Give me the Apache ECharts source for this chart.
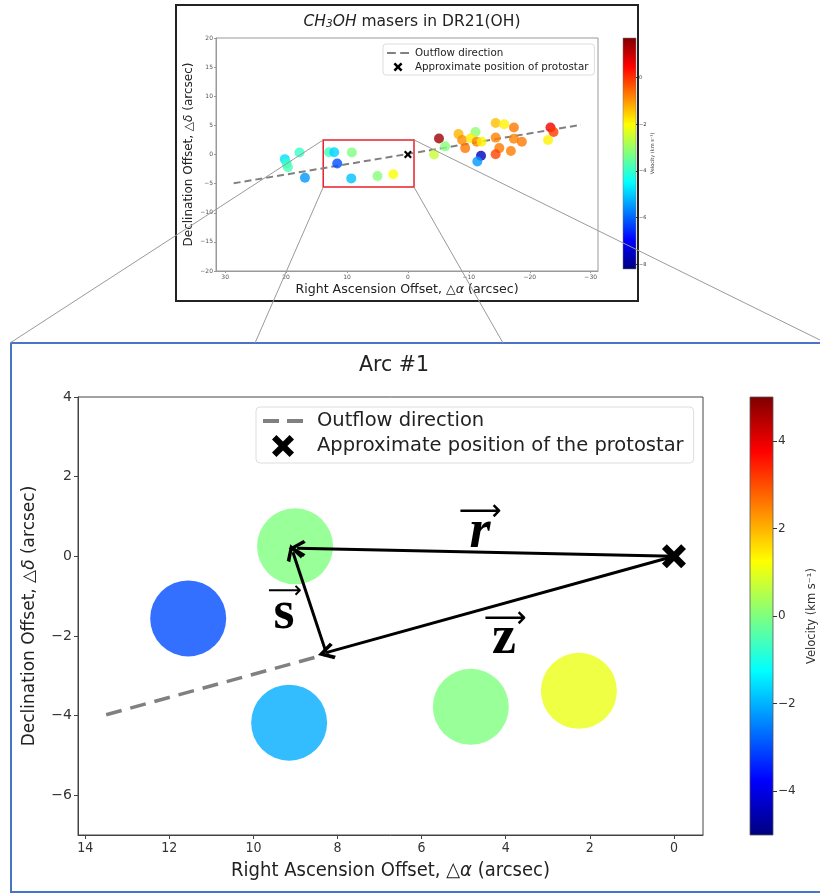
<!DOCTYPE html>
<html><head><meta charset="utf-8">
<script src="https://cdn.jsdelivr.net/npm/echarts@6/dist/echarts.min.js"></script>
<style>html,body{margin:0;padding:0;background:#fff}#c{width:820px;height:895px}</style>
</head><body><div id="c"></div>
<script>
// ---------- Overview panel (CH3OH masers in DR21(OH)) ----------
const overviewRA  = [20.2, 19.9, 19.7, 17.8, 16.9, 12.95, 12.1, 11.6, 9.2, 9.3, 5.0, 2.4, -5.1, -4.3, -6.1, -8.3, -8.9, -9.4, -11.1, -10.3, -11.3, -12.1, -12.0, -11.4, -14.4, -15.8, -14.4, -15.0, -14.4, -17.4, -17.4, -16.9, -18.7, -23.4, -23.9, -23.0];
const overviewDec = [-0.8, -1.5, -2.2, 0.35, -4.0, 0.4, 0.4, -1.55, 0.35, -4.1, -3.7, -3.4, 2.75, 0.0, 1.4, 3.5, 2.5, 1.1, 3.85, 2.8, 2.2, 2.2, -0.2, -1.2, 5.4, 5.2, 2.9, 1.1, 0.05, 4.65, 2.7, 0.6, 2.2, 4.65, 3.85, 2.5];
const overviewVel = [-4.8, -4.0, -3.75, -3.95, -5.5, -3.85, -4.9, -6.2, -3.25, -5.1, -3.2, -2.05, 1.4, -2.55, -3.2, -1.3, -0.9, -0.7, -3.1, -1.85, -0.8, -1.9, -7.6, -5.5, -1.4, -1.9, -0.8, -0.7, -0.2, -0.7, -0.8, -0.75, -0.7, 0.6, -0.1, -1.9];
const overviewOutflowRA  = [28.6, -28.4];
const overviewOutflowDec = [-4.94, 5.1];
const overviewXTicks = [30, 20, 10, 0, -10, -20, -30];
const overviewYTicks = [-20, -15, -10, -5, 0, 5, 10, 15, 20];
const overviewCbarTicks = [-8, -6, -4, -2, 0];
const overviewVelRange = [-8.2, 1.7];
const zoomBoxRA  = [13.9, -1.0];
const zoomBoxDec = [2.5, -5.6];

// ---------- Arc #1 panel ----------
const arcRA  = [9.01, 11.55, 9.15, 4.83, 2.26];
const arcDec = [0.25, -1.56, -4.18, -3.78, -3.38];
const arcVel = [0.0, -3.0, -2.05, 0.0, 1.05];
const arcOutflowRA  = [13.5, 8.2];
const arcOutflowDec = [-3.98, -2.44];
const protostarRA = [0], protostarDec = [0];
const vecNames = ['r', 's', 'z'];
const vecFrom = [[0, 0], [8.27, -2.42], [0, 0]];
const vecTo   = [[8.96, 0.2], [9.06, 0.1], [8.27, -2.42]];
const vecLabelPos = [[4.61, 0.58], [9.27, -1.44], [4.04, -2.09]];
const vecArrowPos = [[4.61, 1.1], [9.25, -0.88], [4.02, -1.58]];
const arcXTicks = [14, 12, 10, 8, 6, 4, 2, 0];
const arcYTicks = [-6, -4, -2, 0, 2, 4];
const arcCbarTicks = [-4, -2, 0, 2, 4];
const arcVelRange = [-5, 5];

const jet = ['#00007f','#0000ff','#007fff','#00ffff','#7fff7f','#ffff00','#ff7f00','#ff0000','#7f0000'];
const jetGrad = {type:'linear', x:0, y:1, x2:0, y2:0,
  colorStops: jet.map((c,i)=>({offset:i/(jet.length-1), color:c}))};
const minus = v => String(v).replace('-', '\u2212');
const xPath = 'path://M2,0 L5,3 L8,0 L10,2 L7,5 L10,8 L8,10 L5,7 L2,10 L0,8 L3,5 L0,2 Z';
const dashPath = 'path://M0,0 h16 v4 h-16 Z M24,0 h16 v4 h-16 Z';
const chevron = 'path://M6,0 L12,10 L10,11.6 L6,4.6 L2,11.6 L0,10 Z';
const zip3 = (a,b,c) => a.map((v,i)=>[v,b[i],c[i]]);
const zip2 = (a,b) => a.map((v,i)=>[v,b[i]]);

const chart = echarts.init(document.getElementById('c'));
const fontS = 'DejaVu Sans';

function mainAxes(gi, xmin, xmax, xt, ymin, ymax, yt, o) {
  return {
    x: {type:'value', gridIndex:gi, min:xmin, max:xmax, inverse:true,
      name:'Right Ascension Offset, \u25B3{i|\u03B1} (arcsec)', nameLocation:'middle', nameGap:o.xGap,
      nameTextStyle:{fontFamily:o.xFont, fontSize:o.xNameSize, color:'#222', rich:{i:{fontFamily:o.xFont, fontStyle:'italic', fontSize:o.xNameSize, color:'#222'}}},
      axisLine:{show:true, onZero:false, lineStyle:{color:o.spine, width:1}}, splitLine:{show:false},
      axisTick:{show:true, customValues:xt, length:o.tick, lineStyle:{color:o.spine}},
      axisLabel:{customValues:xt, formatter:minus, fontSize:o.tickSize, fontFamily:o.xFont, color:o.tickColor, margin:o.tickMargin}},
    y: {type:'value', gridIndex:gi, min:ymin, max:ymax,
      name:'Declination Offset, \u25B3{i|\u03B4} (arcsec)', nameLocation:'middle', nameGap:o.yGap, nameRotate:90,
      nameTextStyle:{fontFamily:fontS, fontSize:o.yNameSize, color:'#222', rich:{i:{fontFamily:fontS, fontStyle:'italic', fontSize:o.yNameSize, color:'#222'}}},
      axisLine:{show:true, onZero:false, lineStyle:{color:o.spine, width:1}}, splitLine:{show:false},
      axisTick:{show:true, customValues:yt, length:o.tick, lineStyle:{color:o.spine}},
      axisLabel:{customValues:yt, formatter:minus, fontSize:o.tickSize, fontFamily:fontS, color:o.tickColor, margin:o.tickMargin}}
  };
}
const topAx = mainAxes(0, -31.2, 31.5, overviewXTicks, -20, 20, overviewYTicks,
  {xGap:12, yGap:21, xNameSize:12.6, yNameSize:12, xFont:fontS, tick:2, spine:'#999', tickSize:6, tickColor:'#555', tickMargin:3});
const botAx = mainAxes(2, -0.69, 14.17, arcXTicks, -7, 4, arcYTicks,
  {xGap:26, yGap:40, xNameSize:20, yNameSize:17, xFont:'DejaVu Sans Condensed', tick:4, spine:'#444', tickSize:14, tickColor:'#333', tickMargin:6});

function cbarAxes(gi, rng, ticks, o) {
  return {
    x: {type:'value', gridIndex:gi, show:false, min:0, max:1},
    y: {type:'value', gridIndex:gi, position:'right', min:rng[0], max:rng[1],
      name:o.name, nameLocation:'middle', nameGap:o.gap, nameRotate:90,
      nameTextStyle:{fontFamily:fontS, fontSize:o.nameSize, color:'#333'},
      axisLine:{show:false, onZero:false}, splitLine:{show:false},
      axisTick:{show:true, customValues:ticks, length:o.tick, lineStyle:{color:'#333'}},
      axisLabel:{customValues:ticks, formatter:minus, fontSize:o.size, fontFamily:fontS, color:'#333', margin:o.margin}}
  };
}
const topCb = cbarAxes(1, overviewVelRange, overviewCbarTicks, {name:'Velocity (km s\u207B\u00B9)', gap:12, nameSize:5, tick:2, size:5, margin:3});
const botCb = cbarAxes(3, arcVelRange, arcCbarTicks, {name:'Velocity (km s\u207B\u00B9)', gap:33, nameSize:11.5, tick:4, size:12, margin:5});

const option = {
  animation:false,
  backgroundColor:'#fff',
  title:[
    {text:'{i|CH}{s|3}{i|OH}{n| masers in DR21(OH)}', left:407, top:8, textAlign:'center',
      textStyle:{fontWeight:'normal', rich:{
        i:{fontFamily:fontS, fontStyle:'italic', fontWeight:'normal', fontSize:15.5, color:'#222', lineHeight:17},
        s:{fontFamily:fontS, fontStyle:'italic', fontWeight:'normal', fontSize:10.5, color:'#222', lineHeight:4, verticalAlign:'bottom'},
        n:{fontFamily:fontS, fontWeight:'normal', fontSize:15.5, color:'#222', lineHeight:17}}}},
    {text:'Arc #1', left:389, top:350, textAlign:'center', textStyle:{fontFamily:fontS, fontSize:20.5, fontWeight:'normal', color:'#222'}}
  ],
  grid:[
    {left:216, top:38, width:382, height:233, show:true, borderColor:'#999', borderWidth:1, backgroundColor:'#fff'},
    {left:623, top:38, width:13, height:231, show:true, borderColor:'#777', borderWidth:0.5, backgroundColor:jetGrad},
    {left:78, top:397, width:625, height:438, show:true, borderColor:'#444', borderWidth:1, backgroundColor:'#fff'},
    {left:750, top:397, width:23, height:438, show:true, borderColor:'#555', borderWidth:0.8, backgroundColor:jetGrad}
  ],
  xAxis:[topAx.x, topCb.x, botAx.x, botCb.x],
  yAxis:[topAx.y, topCb.y, botAx.y, botCb.y],
  visualMap:[
    {show:false, type:'continuous', seriesIndex:0, dimension:2, min:overviewVelRange[0], max:overviewVelRange[1], inRange:{color:jet}},
    {show:false, type:'continuous', seriesIndex:4, dimension:2, min:arcVelRange[0], max:arcVelRange[1], inRange:{color:jet}}
  ],
  legend:[
    {orient:'vertical', left:383, top:44, itemWidth:22, itemHeight:9, itemGap:4, padding:[4,6,3,4],
      borderColor:'#ddd', borderWidth:1, borderRadius:3, backgroundColor:'rgba(255,255,255,0.85)',
      textStyle:{fontFamily:fontS, fontSize:10.3, color:'#222', padding:[0,0,0,1]}, selectedMode:false,
      data:[{name:'Outflow direction', icon:dashPath, itemStyle:{color:'#808080', opacity:1}},
            {name:'Approximate position of protostar', icon:xPath, itemStyle:{color:'#000', opacity:1}}]},
    {orient:'vertical', left:256, top:407, itemWidth:40, itemHeight:22, itemGap:4, padding:[4,10,6,7],
      borderColor:'#ddd', borderWidth:1, borderRadius:4, backgroundColor:'rgba(255,255,255,0.85)',
      textStyle:{fontFamily:fontS, fontSize:19.5, color:'#222', padding:[0,0,0,9]}, selectedMode:false,
      data:[{name:'Outflow direction ', icon:dashPath, itemStyle:{color:'#808080', opacity:1}},
            {name:'Approximate position of the protostar', icon:xPath, itemStyle:{color:'#000', opacity:1}}]}
  ],
  series:[
    {name:'masers', type:'scatter', xAxisIndex:0, yAxisIndex:0, symbolSize:10, itemStyle:{opacity:0.8},
      data:zip3(overviewRA, overviewDec, overviewVel), z:3,
      markArea:{silent:true, itemStyle:{color:'rgba(0,0,0,0)', borderColor:'#e8202a', borderWidth:1.5},
        data:[[{coord:[zoomBoxRA[0], zoomBoxDec[0]]},{coord:[zoomBoxRA[1], zoomBoxDec[1]]}]]}},
    {name:'Outflow direction', type:'line', xAxisIndex:0, yAxisIndex:0, symbol:'none',
      lineStyle:{color:'#808080', width:2, type:[7,4]}, itemStyle:{color:'#808080'},
      data:zip2(overviewOutflowRA, overviewOutflowDec), z:2},
    {name:'Approximate position of protostar', type:'scatter', xAxisIndex:0, yAxisIndex:0, symbol:xPath, symbolSize:8,
      itemStyle:{color:'#000', opacity:1}, data:zip2(protostarRA, protostarDec), z:4},
    {name:'cbar-top', type:'scatter', xAxisIndex:1, yAxisIndex:1, data:[]},
    {name:'arc masers', type:'scatter', xAxisIndex:2, yAxisIndex:2, symbolSize:76, itemStyle:{opacity:0.8},
      data:zip3(arcRA, arcDec, arcVel), z:2},
    {name:'Outflow direction ', type:'line', xAxisIndex:2, yAxisIndex:2, symbol:'none',
      lineStyle:{color:'#808080', width:3.5, type:[16,9]}, itemStyle:{color:'#808080'},
      data:zip2(arcOutflowRA, arcOutflowDec), z:3},
    {name:'Approximate position of the protostar', type:'scatter', xAxisIndex:2, yAxisIndex:2, symbol:xPath, symbolSize:24,
      itemStyle:{color:'#000', opacity:1}, data:zip2(protostarRA, protostarDec), z:6,
      markLine:{silent:true, symbol:['none', chevron], symbolSize:[17,17], precision:3,
        lineStyle:{color:'#000', width:3, type:'solid'}, label:{show:false},
        data:vecFrom.map((f,i)=>[{coord:f},{coord:vecTo[i]}])},
      markPoint:{silent:true, symbol:'circle', symbolSize:0,
        data: vecNames.map((n,i)=>({coord:vecLabelPos[i], name:n,
              label:{show:true, position:'inside', formatter:n, fontFamily:'Liberation Serif', fontWeight:'bold',
                fontStyle: n==='r' ? 'italic' : 'normal', fontSize:54, color:'#000'}}))
          .concat(vecNames.map((n,i)=>({coord:vecArrowPos[i], name:n+'-arrow',
              label:{show:true, position:'inside', formatter:'\u27F6', fontFamily:fontS, fontSize: n==='s'?24:30, color:'#000'}})))}},
    {name:'cbar-bottom', type:'scatter', xAxisIndex:3, yAxisIndex:3, data:[]}
  ]
};
chart.setOption(option);

// frames and zoom connector lines (decoration)
const tl = chart.convertToPixel({gridIndex:0}, [zoomBoxRA[0], zoomBoxDec[0]]);
const br = chart.convertToPixel({gridIndex:0}, [zoomBoxRA[1], zoomBoxDec[1]]);
const ln = (x1,y1,x2,y2) => ({type:'line', z:100, silent:true, shape:{x1,y1,x2,y2}, style:{stroke:'#9a9a9a', lineWidth:1}});
chart.setOption({graphic:[
  {type:'rect', z:90, silent:true, shape:{x:176, y:5, width:462, height:296}, style:{fill:'none', stroke:'#222', lineWidth:2}},
  {type:'rect', z:90, silent:true, shape:{x:11, y:343, width:820, height:549}, style:{fill:'none', stroke:'#4a74c6', lineWidth:2}},
  ln(tl[0], tl[1], 10, 343),
  ln(br[0], tl[1], 820, 340),
  ln(tl[0], br[1], 255, 343),
  ln(br[0], br[1], 503, 343)
]});
</script></body></html>
